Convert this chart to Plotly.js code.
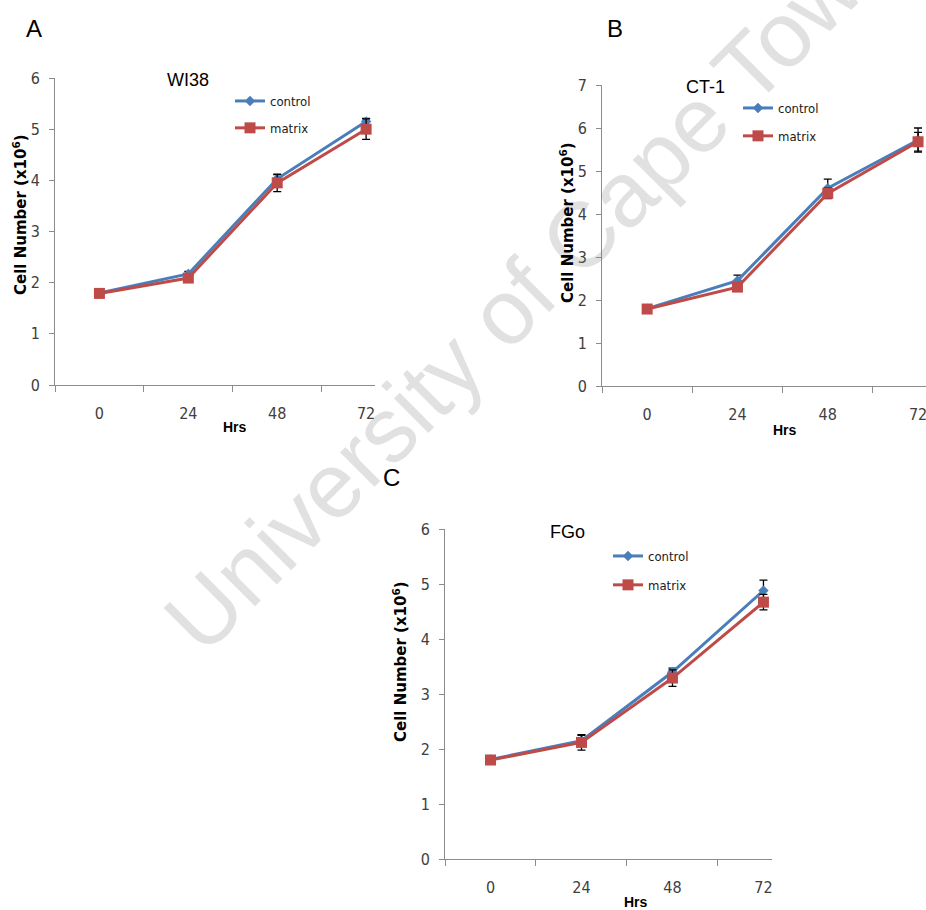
<!DOCTYPE html>
<html>
<head>
<meta charset="utf-8">
<script src="https://cdn.plot.ly/plotly-3.0.1.min.js"></script>
<style>
html,body{margin:0;padding:0;background:#ffffff;}
#chart{width:926px;height:910px;}
</style>
</head>
<body>
<div id="chart"></div>
<script>
// ---- data ----
const hours = ['0', '24', '48', '72'];

const wi38Control    = [1.80, 2.17, 4.03, 5.15];
const wi38ControlErr = [0.04, 0.05, 0.08, 0.06];
const wi38Matrix     = [1.79, 2.09, 3.95, 5.00];
const wi38MatrixErr  = [0.05, 0.06, 0.17, 0.20];

const ct1Control     = [1.80, 2.45, 4.60, 5.72];
const ct1ControlErr  = [0.04, 0.13, 0.21, 0.28];
const ct1Matrix      = [1.79, 2.30, 4.48, 5.68];
const ct1MatrixErr   = [0.04, 0.08, 0.12, 0.22];

const fgoControl     = [1.81, 2.15, 3.40, 4.88];
const fgoControlErr  = [0.03, 0.10, 0.07, 0.19];
const fgoMatrix      = [1.80, 2.12, 3.29, 4.67];
const fgoMatrixErr   = [0.03, 0.14, 0.15, 0.14];

const seriesNames = ['control', 'matrix'];
const panelTitles = ['WI38', 'CT-1', 'FGo'];
const panelLetters = ['A', 'B', 'C'];
const yTitle = '<b>Cell Number (x10<sup>6</sup>)</b>';
const xTitle = '<b>Hrs</b>';
const watermark = 'University of Cape Town';

// ---- styling ----
const W = 926, H = 910;
const px = v => v / W;
const py = v => 1 - v / H;
const blue = '#4a7ebb';
const red = '#be4b48';
const axisGray = '#8c8c8c';
const narrow = 'Liberation Sans Narrow, DejaVu Sans Condensed, Arial Narrow, Liberation Sans, sans-serif';
const arial = 'Liberation Sans, Arial, sans-serif';
const tickFont = {family: narrow, size: 16, color: '#404040'};
const legendFont = {family: narrow, size: 13, color: '#1a1a1a'};

function ctrlTrace(y, err, xa, ya, leg, grp) {
  return {
    type: 'scatter', mode: 'lines+markers', name: seriesNames[0],
    x: hours, y: y, xaxis: xa, yaxis: ya, legend: leg, legendgroup: grp + 'c',
    line: {color: blue, width: 3},
    marker: {symbol: 'diamond', size: 8, color: blue},
    error_y: {type: 'data', array: err, visible: true, color: '#000000', thickness: 1.3, width: 4}
  };
}
function matTrace(y, err, xa, ya, leg, grp) {
  return {
    type: 'scatter', mode: 'lines+markers', name: seriesNames[1],
    x: hours, y: y, xaxis: xa, yaxis: ya, legend: leg, legendgroup: grp + 'm',
    line: {color: red, width: 3},
    marker: {symbol: 'square', size: 11, color: red},
    error_y: {type: 'data', array: err, visible: true, color: '#000000', thickness: 1.3, width: 4}
  };
}

const data = [
  ctrlTrace(wi38Control, wi38ControlErr, 'x', 'y', 'legend', 'a'),
  matTrace(wi38Matrix, wi38MatrixErr, 'x', 'y', 'legend', 'a'),
  ctrlTrace(ct1Control, ct1ControlErr, 'x2', 'y2', 'legend2', 'b'),
  matTrace(ct1Matrix, ct1MatrixErr, 'x2', 'y2', 'legend2', 'b'),
  ctrlTrace(fgoControl, fgoControlErr, 'x3', 'y3', 'legend3', 'c'),
  matTrace(fgoMatrix, fgoMatrixErr, 'x3', 'y3', 'legend3', 'c')
];

function xax(x0, x1, end, anchor) {
  return {
    domain: [px(x0), px(x1)], anchor: anchor, type: 'category',
    categoryorder: 'array', categoryarray: hours,
    range: [-0.5, end], showline: true, linecolor: axisGray, linewidth: 1,
    ticks: 'outside', tickson: 'boundaries', ticklen: 6, tickcolor: axisGray,
    showgrid: false, zeroline: false, tickfont: tickFont, ticklabelstandoff: 14,
    fixedrange: true
  };
}
function yax(yBottom, yTop, max, anchor) {
  return {
    domain: [py(yBottom), py(yTop)], anchor: anchor, range: [0, max],
    tick0: 0, dtick: 1, showline: true, linecolor: axisGray, linewidth: 1,
    ticks: 'outside', ticklen: 5, tickcolor: axisGray,
    showgrid: false, zeroline: false, tickfont: tickFont, ticklabelstandoff: 6,
    fixedrange: true
  };
}
function leg(L, T, gap) {
  return {
    x: px(L), y: py(T), xanchor: 'left', yanchor: 'top',
    bgcolor: 'rgba(0,0,0,0)', borderwidth: 0, font: legendFont,
    traceorder: 'grouped', tracegroupgap: gap
  };
}
function ann(text, x, y, font, extra) {
  return Object.assign({
    text: text, x: px(x), y: py(y), xref: 'paper', yref: 'paper',
    showarrow: false, xanchor: 'center', yanchor: 'middle', font: font
  }, extra || {});
}

const letterFont = {family: arial, size: 24, color: '#000000'};
const titleFont = {family: arial, size: 18, color: '#000000'};
const yTitleFont = {family: 'DejaVu Sans, sans-serif', size: 15, color: '#000000'};
const xTitleFont = {family: arial, size: 14, color: '#000000'};

const annotations = [
  ann(watermark, 531, 285, {family: arial, size: 92, color: 'rgba(128,128,128,0.24)'}, {textangle: -45}),
  ann(panelLetters[0], 34, 28, letterFont),
  ann(panelLetters[1], 615, 28, letterFont),
  ann(panelLetters[2], 391, 477, letterFont),
  ann(panelTitles[0], 188, 80, titleFont),
  ann(panelTitles[1], 705, 87, titleFont),
  ann(panelTitles[2], 567, 532, titleFont),
  ann(yTitle, 20, 215, yTitleFont, {textangle: -90}),
  ann(yTitle, 567, 223, yTitleFont, {textangle: -90}),
  ann(yTitle, 400, 662, yTitleFont, {textangle: -90}),
  ann(xTitle, 235, 427, xTitleFont),
  ann(xTitle, 785, 430, xTitleFont),
  ann(xTitle, 636, 902, xTitleFont)
];

const layout = {
  width: W, height: H,
  margin: {l: 0, r: 0, t: 0, b: 0, pad: 0},
  paper_bgcolor: '#ffffff', plot_bgcolor: 'rgba(0,0,0,0)',
  showlegend: true,
  xaxis: xax(55, 375, 3.1, 'y'),
  yaxis: yax(385, 78, 6, 'x'),
  xaxis2: xax(602, 926, 3.088, 'y2'),
  yaxis2: yax(386, 85, 7, 'x2'),
  xaxis3: xax(445, 772, 3.094, 'y3'),
  yaxis3: yax(859, 529, 6, 'x3'),
  legend: leg(230, 86, 7),
  legend2: leg(738, 93, 8),
  legend3: leg(608, 541, 9),
  annotations: annotations
};

Plotly.newPlot('chart', data, layout, {displayModeBar: false, staticPlot: true});
</script>
</body>
</html>
